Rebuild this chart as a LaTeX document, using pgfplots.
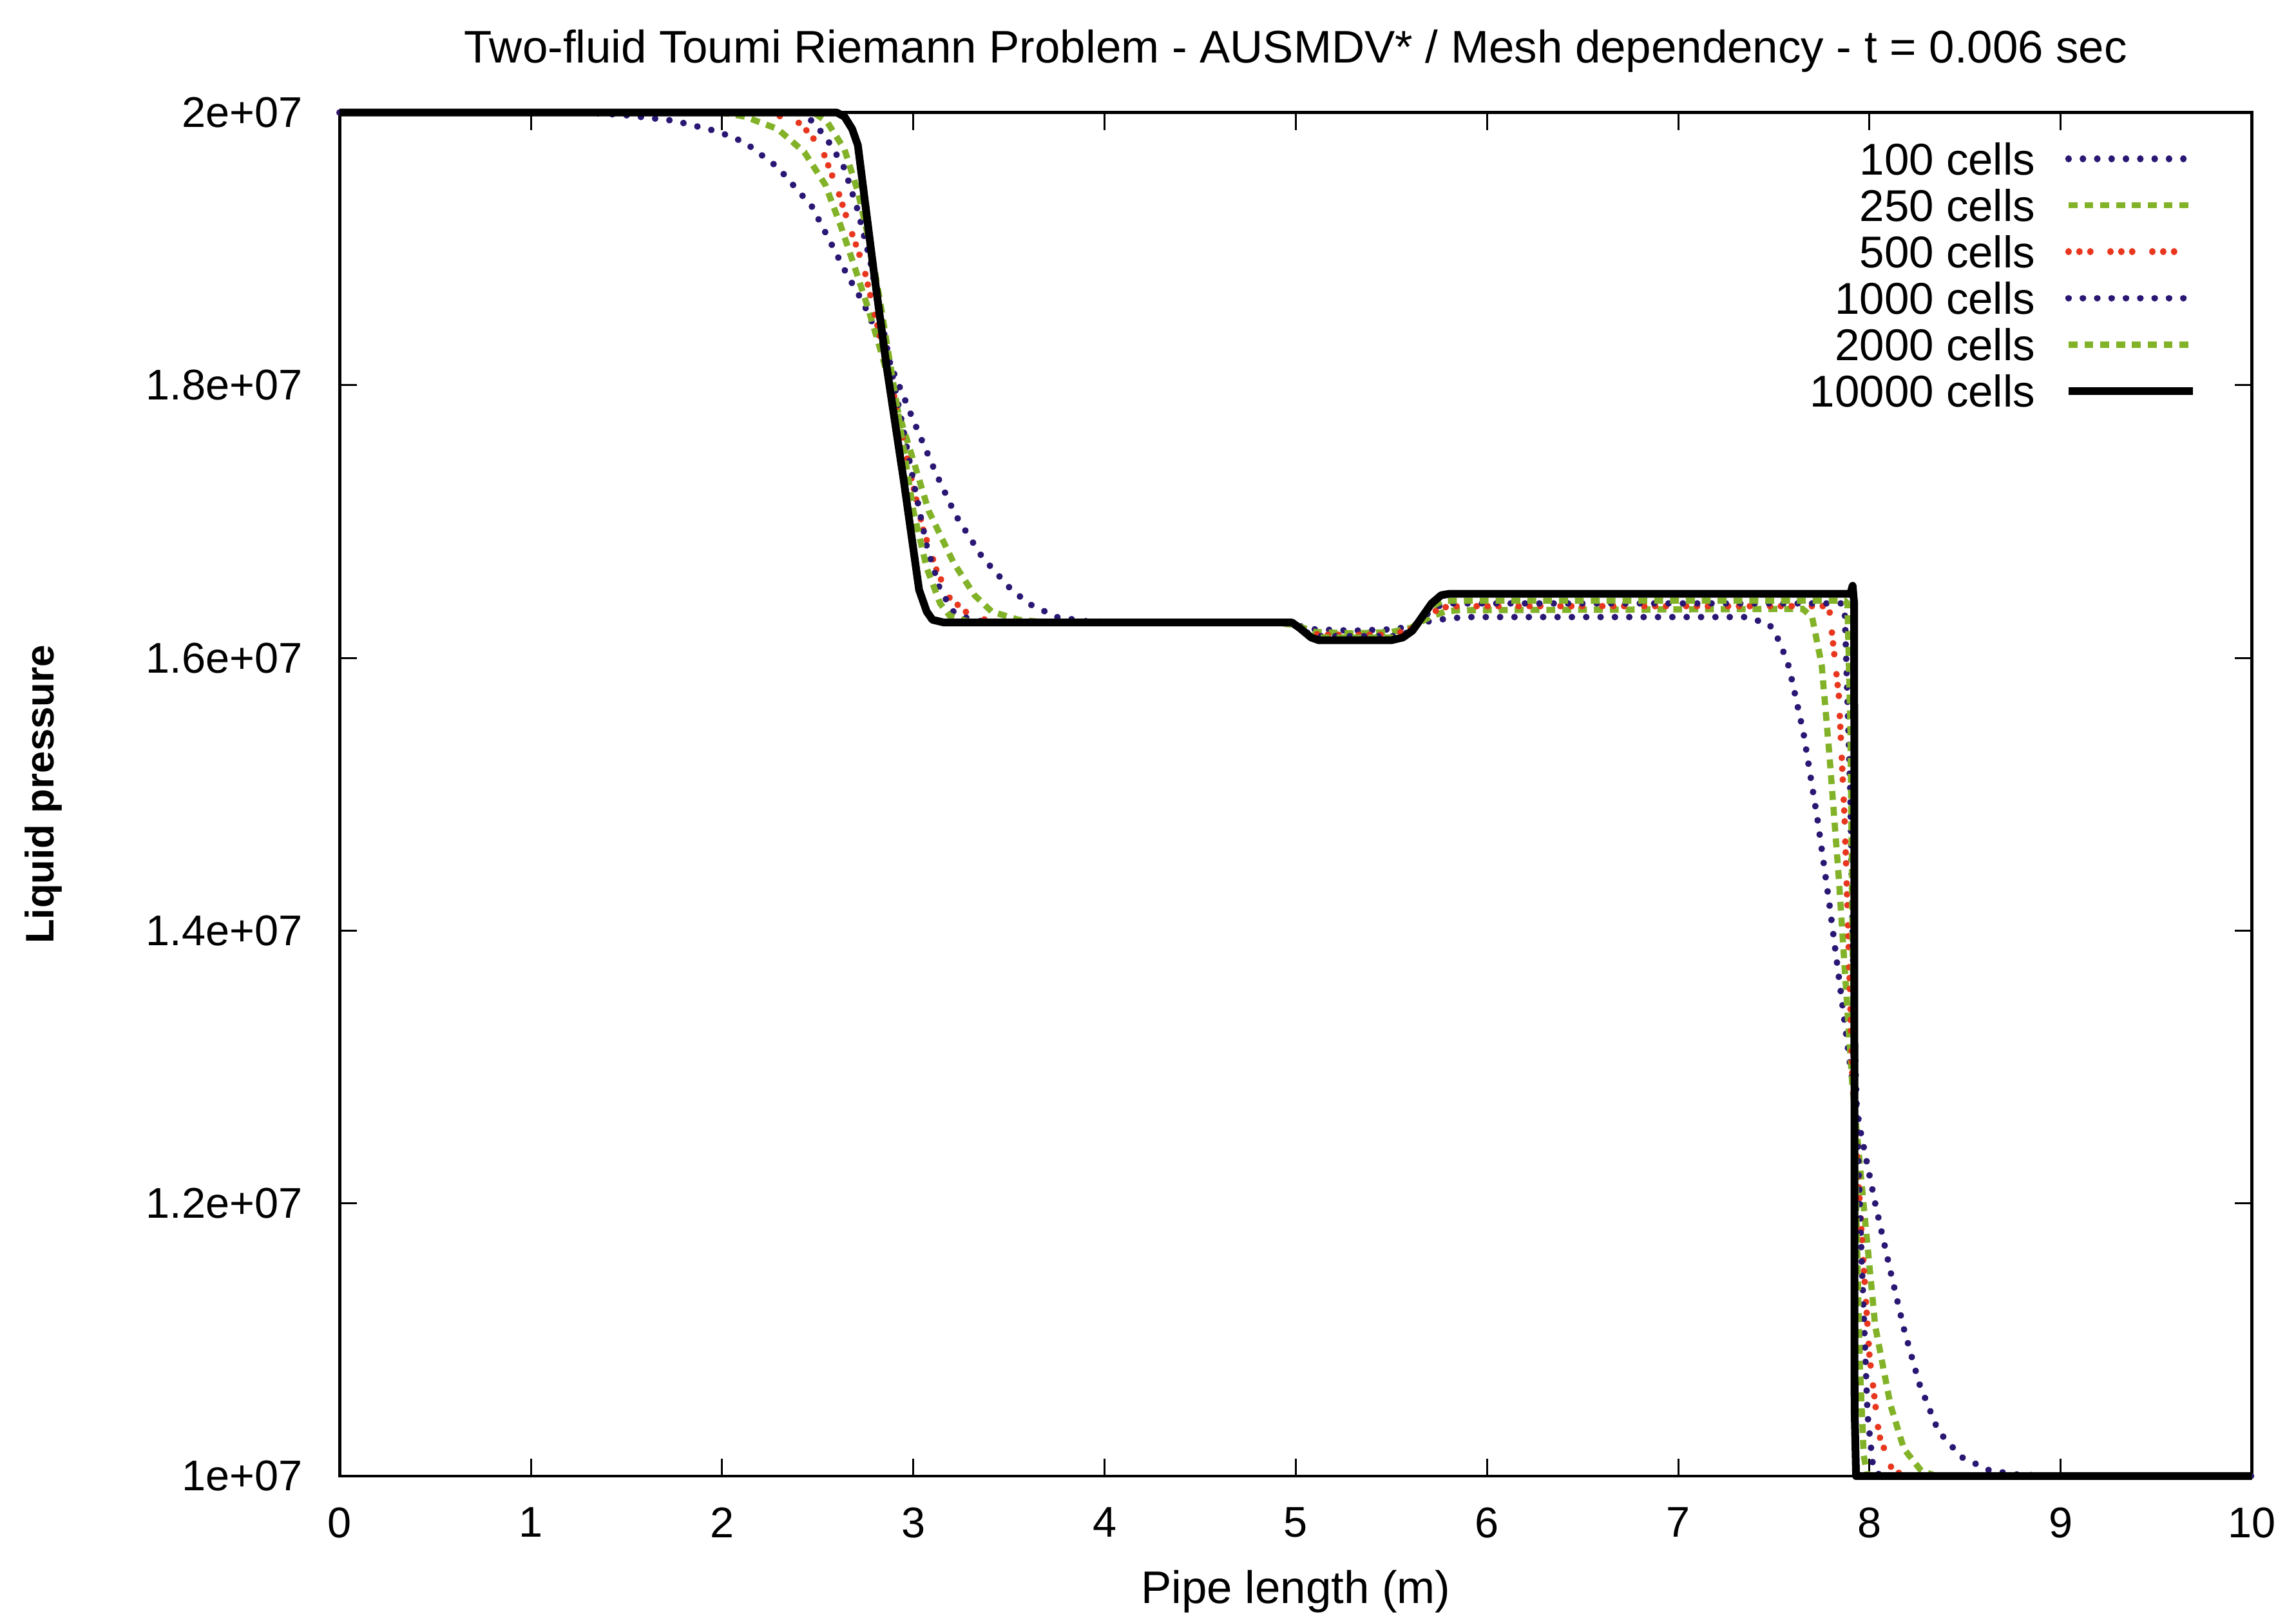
\documentclass[border=0pt]{standalone}
\usepackage{fontspec}
\setmainfont{Liberation Sans}
\usepackage{pgfplots}
\pgfplotsset{compat=1.18}
\definecolor{cblue}{RGB}{42,22,115}
\definecolor{cgreen}{RGB}{130,178,40}
\definecolor{cred}{RGB}{232,55,30}
\tikzset{
  gdot/.style={line width=1.7pt, line cap=round, dash pattern=on 0.01pt off 3.7pt},
  gdash/.style={line width=1.6pt, dash pattern=on 2.3pt off 1.8pt},
  gdotgrp/.style={line width=1.7pt, line cap=round, dash pattern=on 0.01pt off 2.8pt on 0.01pt off 2.8pt on 0.01pt off 5.2pt},
}
\begin{document}
\fontsize{11.5pt}{13.8pt}\selectfont
\begin{tikzpicture}
\begin{axis}[
  width=494.3pt, height=352.4pt, scale only axis,
  xmin=0, xmax=10, ymin=1e7, ymax=2e7,
  clip=false,
  xtick={0,1,2,3,4,5,6,7,8,9,10},
  ytick={1e7,1.2e7,1.4e7,1.6e7,1.8e7,2e7},
  yticklabels={1e+07,1.2e+07,1.4e+07,1.6e+07,1.8e+07,2e+07},
  scaled y ticks=false,
  tick align=inside, tick pos=both,
  major tick length=4.5pt,
  every tick/.style={black, line width=0.5pt},
  axis line style={line width=0.8pt},
  /pgf/number format/assume math mode=true,
  tick label style={font=\fontsize{11.1pt}{13pt}\selectfont},
  yticklabel style={xshift=-5.6pt},
  xticklabel style={yshift=-4.1pt},
  xlabel={Pipe length (m)},
  ylabel={Liquid pressure},
  title={Two-fluid Toumi Riemann Problem - AUSMDV* / Mesh dependency - t = 0.006 sec},
  title style={at={(rel axis cs:0.5,1)}, anchor=base, yshift=6.9pt, inner sep=0pt,
    font=\fontsize{11.8pt}{14pt}\selectfont},
  xlabel style={at={(rel axis cs:0.5,0)}, anchor=base, yshift=-32.9pt, inner sep=0pt,
    font=\fontsize{11.8pt}{14pt}\selectfont},
  ylabel style={at={([xshift=-71.5pt]rel axis cs:0,0.5)}, anchor=south, inner sep=0pt,
    font=\fontsize{10.3pt}{12pt}\selectfont\bfseries},
  legend style={at={(rel axis cs:1,1)}, anchor=north east, xshift=-14pt, yshift=-7.6pt,
    draw=none, fill=none, inner sep=0pt, row sep=3.7pt, column sep=7.6pt,
    nodes={inner sep=0pt, text height=8.3pt, text depth=0pt}},
  legend cell align=right,
  legend plot pos=right,
  legend image code/.code={\draw[#1] (0pt,0pt) -- (32.2pt,0pt);},
  no markers,
]
\addplot[cblue, gdot] coordinates {(0,2e7) (1.3,2e7) (1.5,1.998e7) (1.75,1.994e7) (1.98,1.986e7) (2.12,1.978e7) (2.29,1.960e7) (2.47,1.931e7) (2.57,1.904e7) (2.65,1.882e7) (2.74,1.860e7) (2.81,1.838e7) (2.91,1.805e7) (3.01,1.771e7) (3.12,1.735e7) (3.22,1.705e7) (3.36,1.674e7) (3.50,1.652e7) (3.60,1.640e7) (3.75,1.630e7) (3.90,1.627e7) (4.10,1.626e7) (4.90,1.626e7) (5.00,1.624e7) (5.10,1.621e7) (5.30,1.620e7) (5.50,1.621e7) (5.60,1.623e7) (5.70,1.627e7) (5.80,1.629e7) (5.90,1.630e7) (7.35,1.630e7) (7.475,1.625e7) (7.53,1.612e7) (7.58,1.593e7) (7.655,1.545e7) (7.73,1.480e7) (7.79,1.420e7) (7.85,1.355e7) (7.90,1.300e7) (7.95,1.255e7) (8.03,1.200e7) (8.11,1.150e7) (8.18,1.108e7) (8.26,1.068e7) (8.36,1.033e7) (8.48,1.014e7) (8.63,1.004e7) (8.78,1.001e7) (9.0,1e7) (10,1e7)};
\addlegendentry{100 cells}
\addplot[cgreen, gdash] coordinates {(0,2e7) (2.0,2e7) (2.12,1.997e7) (2.29,1.988e7) (2.43,1.971e7) (2.54,1.947e7) (2.62,1.917e7) (2.69,1.888e7) (2.76,1.858e7) (2.83,1.825e7) (2.90,1.790e7) (2.98,1.754e7) (3.08,1.708e7) (3.21,1.670e7) (3.32,1.646e7) (3.41,1.634e7) (3.55,1.628e7) (3.70,1.626e7) (4.90,1.626e7) (5.00,1.624e7) (5.10,1.619e7) (5.30,1.618e7) (5.50,1.619e7) (5.60,1.622e7) (5.70,1.630e7) (5.78,1.634e7) (5.85,1.635e7) (7.65,1.636e7) (7.70,1.630e7) (7.75,1.595e7) (7.79,1.530e7) (7.84,1.438e7) (7.88,1.352e7) (7.91,1.288e7) (7.97,1.198e7) (8.03,1.110e7) (8.11,1.052e7) (8.18,1.020e7) (8.27,1.004e7) (8.35,1e7) (10,1e7)};
\addlegendentry{250 cells}
\addplot[cred, gdotgrp] coordinates {(0,2e7) (2.25,2e7) (2.41,1.992e7) (2.52,1.974e7) (2.60,1.945e7) (2.67,1.915e7) (2.74,1.887e7) (2.81,1.845e7) (2.895,1.795e7) (2.98,1.738e7) (3.05,1.695e7) (3.12,1.665e7) (3.19,1.644e7) (3.29,1.632e7) (3.40,1.627e7) (3.50,1.626e7) (4.95,1.626e7) (5.05,1.620e7) (5.12,1.617e7) (5.50,1.617e7) (5.60,1.621e7) (5.68,1.630e7) (5.76,1.637e7) (5.85,1.638e7) (7.76,1.638e7) (7.79,1.636e7) (7.84,1.572e7) (7.87,1.482e7) (7.89,1.395e7) (7.91,1.295e7) (7.96,1.175e7) (8.00,1.088e7) (8.05,1.030e7) (8.12,1.004e7) (8.20,1e7) (10,1e7)};
\addlegendentry{500 cells}
\addplot[cblue, gdot] coordinates {(0,2e7) (2.40,2e7) (2.48,1.993e7) (2.57,1.976e7) (2.64,1.959e7) (2.71,1.928e7) (2.775,1.891e7) (2.83,1.850e7) (2.93,1.780e7) (3.00,1.730e7) (3.07,1.682e7) (3.14,1.650e7) (3.21,1.634e7) (3.30,1.628e7) (3.40,1.626e7) (4.97,1.626e7) (5.05,1.619e7) (5.12,1.616e7) (5.55,1.616e7) (5.62,1.622e7) (5.70,1.634e7) (5.76,1.639e7) (5.82,1.640e7) (7.85,1.640e7) (7.87,1.638e7) (7.90,1.500e7) (7.92,1.330e7) (7.94,1.240e7) (7.96,1.155e7) (7.99,1.045e7) (8.02,1.005e7) (8.06,1e7) (10,1e7)};
\addlegendentry{1000 cells}
\addplot[cgreen, gdash] coordinates {(0,2e7) (2.48,2e7) (2.55,1.993e7) (2.64,1.973e7) (2.71,1.942e7) (2.78,1.899e7) (2.83,1.858e7) (2.92,1.780e7) (3.00,1.708e7) (3.07,1.666e7) (3.14,1.640e7) (3.19,1.631e7) (3.28,1.627e7) (3.40,1.626e7) (4.98,1.626e7) (5.06,1.617e7) (5.12,1.615e7) (5.56,1.615e7) (5.63,1.623e7) (5.70,1.637e7) (5.77,1.642e7) (7.87,1.642e7) (7.885,1.640e7) (7.90,1.550e7) (7.915,1.350e7) (7.93,1.200e7) (7.95,1.080e7) (7.97,1.015e7) (7.99,1e7) (10,1e7)};
\addlegendentry{2000 cells}
\addplot[black, line width=2pt, line join=round] coordinates {(0,2e7) (2.60,2e7) (2.64,1.997e7) (2.68,1.988e7) (2.71,1.976e7) (2.79,1.887e7) (2.86,1.814e7) (2.95,1.730e7) (3.03,1.650e7) (3.07,1.634e7) (3.10,1.628e7) (3.16,1.626e7) (4.98,1.626e7) (5.02,1.622e7) (5.08,1.615e7) (5.12,1.613e7) (5.50,1.613e7) (5.56,1.615e7) (5.61,1.620e7) (5.66,1.630e7) (5.71,1.640e7) (5.76,1.646e7) (5.80,1.647e7) (7.90,1.647e7) (7.912,1.653e7) (7.92,1.640e7) (7.922,1.050e7) (7.93,1e7) (10,1e7)};
\addlegendentry{10000 cells}
\coordinate (BL) at (rel axis cs:0,0);
\coordinate (TR) at (rel axis cs:1,1);
\end{axis}
\path ([shift={(-87.8pt,-37.9pt)}]BL) rectangle ([shift={(11.4pt,29.1pt)}]TR);
\end{tikzpicture}
\end{document}
